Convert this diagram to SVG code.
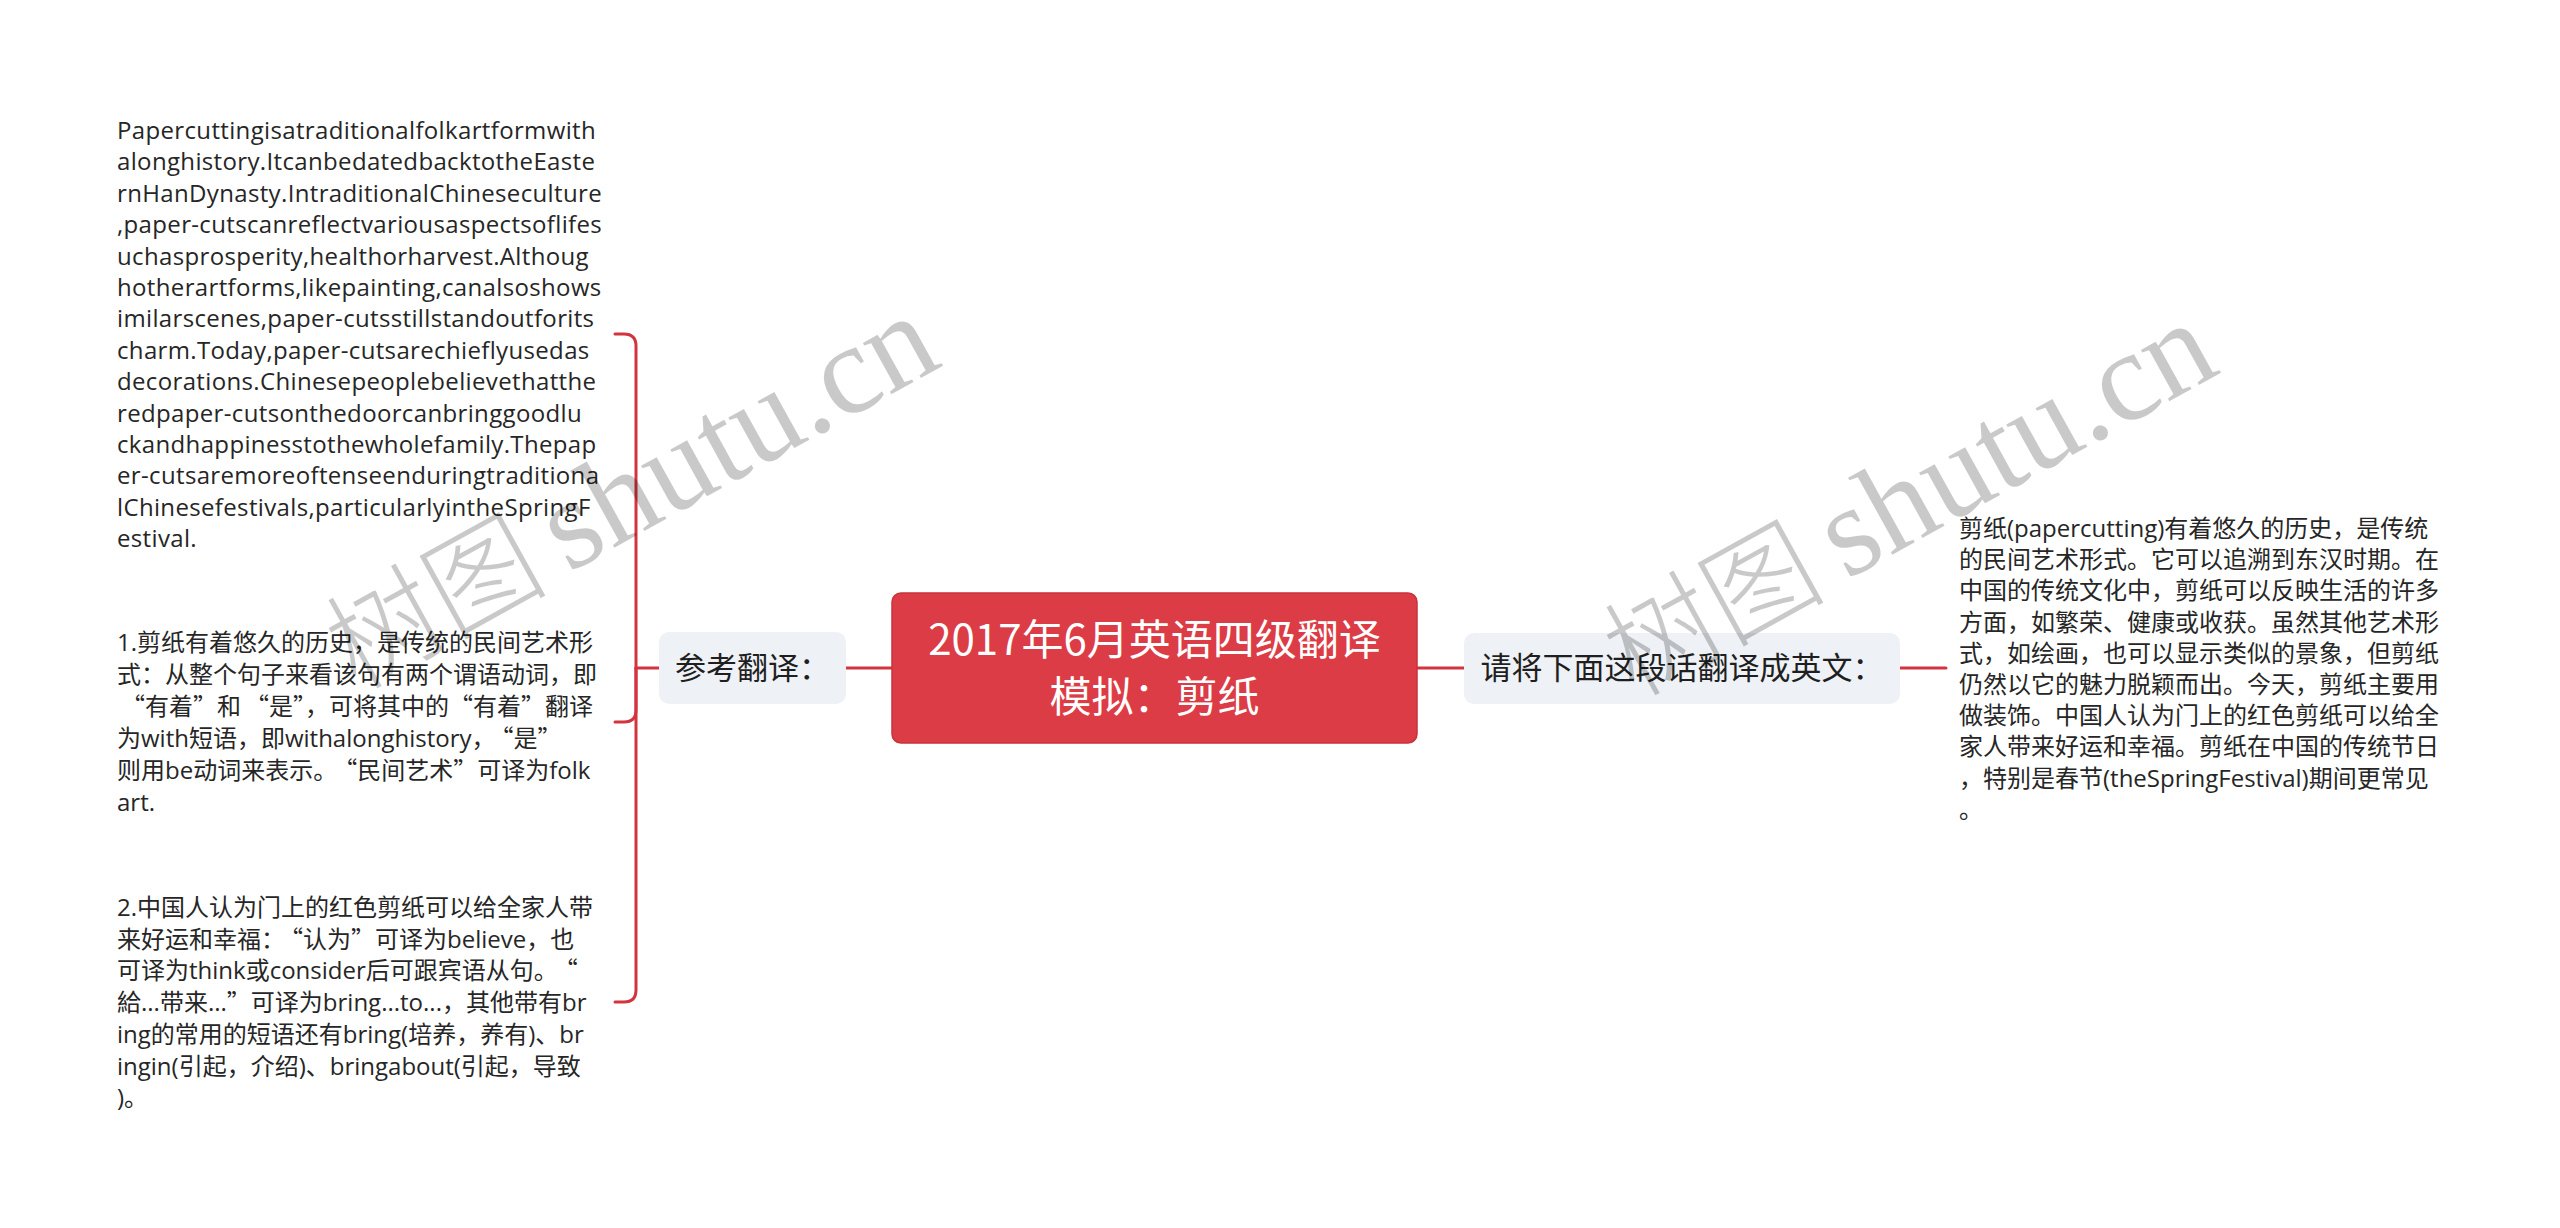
<svg xmlns="http://www.w3.org/2000/svg" width="2560" height="1228" viewBox="0 0 2560 1228">
<style>
.bg{fill:#ffffff}
.wm{fill:#000000;fill-opacity:0.21}
.wmc{font-family:"Noto Sans CJK SC",sans-serif;font-weight:300}
.wml{font-family:"Liberation Serif",serif}
.conn{fill:none;stroke:#d2353f;stroke-width:3;stroke-linecap:round}
.root{fill:#dc3c45;stroke:#c9323b;stroke-width:1.5}
.roott{font-family:"Noto Sans CJK SC",sans-serif;font-size:42px;fill:#ffffff;text-anchor:middle}
.sub{fill:#eef1f5}
.subt{font-family:"Noto Sans CJK SC",sans-serif;font-size:31px;fill:#1f1f1f;text-anchor:middle}
.txt{font-family:"Open Sans","Noto Sans CJK SC",sans-serif;font-size:24px;fill:#262626}
.en{letter-spacing:0.35px}
.cj{font-family:"Noto Sans CJK SC",sans-serif}
</style>
<rect class="bg" x="0" y="0" width="2560" height="1228"/>

<g id="connectors">
  <path class="conn" d="M892 668 H846"/>
  <path class="conn" d="M659 668 H636"/>
  <path class="conn" d="M636 668 V346 Q636 334 624 334 H615"/>
  <path class="conn" d="M636 668 V710 Q636 722 624 722 H615"/>
  <path class="conn" d="M636 668 V990 Q636 1002 624 1002 H615"/>
  <path class="conn" d="M1417 668 H1464"/>
  <path class="conn" d="M1900 668 H1946"/>
</g>

<g id="root">
  <rect class="root" x="892" y="593" width="525" height="150" rx="9"/>
  <text class="roott"><tspan x="1154.5" y="655">2017年6月英语四级翻译</tspan><tspan x="1154.5" y="712">模拟：剪纸</tspan></text>
</g>

<g id="node-ref">
  <rect class="sub" x="659" y="632" width="187" height="72" rx="10"/>
  <text class="subt" x="752.5" y="679">参考翻译：</text>
</g>

<g id="node-task">
  <rect class="sub" x="1464" y="633" width="436" height="71" rx="10"/>
  <text class="subt" x="1682" y="679">请将下面这段话翻译成英文：</text>
</g>

<g id="node-english">
  <text class="txt en">
    <tspan x="117" y="139">Papercuttingisatraditionalfolkartformwith</tspan>
    <tspan x="117" dy="31.4">alonghistory.ItcanbedatedbacktotheEaste</tspan>
    <tspan x="117" dy="31.4">rnHanDynasty.IntraditionalChineseculture</tspan>
    <tspan x="117" dy="31.4">,paper-cutscanreflectvariousaspectsoflifes</tspan>
    <tspan x="117" dy="31.4">uchasprosperity,healthorharvest.Althoug</tspan>
    <tspan x="117" dy="31.4">hotherartforms,likepainting,canalsoshows</tspan>
    <tspan x="117" dy="31.4">imilarscenes,paper-cutsstillstandoutforits</tspan>
    <tspan x="117" dy="31.4">charm.Today,paper-cutsarechieflyusedas</tspan>
    <tspan x="117" dy="31.4">decorations.Chinesepeoplebelievethatthe</tspan>
    <tspan x="117" dy="31.4">redpaper-cutsonthedoorcanbringgoodlu</tspan>
    <tspan x="117" dy="31.4">ckandhappinesstothewholefamily.Thepap</tspan>
    <tspan x="117" dy="31.4">er-cutsaremoreoftenseenduringtraditiona</tspan>
    <tspan x="117" dy="31.4">lChinesefestivals,particularlyintheSpringF</tspan>
    <tspan x="117" dy="31.4">estival.</tspan>
  </text>
</g>

<g id="node-note1">
  <text class="txt">
    <tspan x="117" y="651">1.剪纸有着悠久的历史，是传统的民间艺术形</tspan>
    <tspan x="117" dy="32">式：从整个句子来看该句有两个谓语动词，即</tspan>
    <tspan x="117" dy="32"><tspan class="cj" dx="4">“</tspan>有着<tspan class="cj">”</tspan>和<tspan class="cj" dx="4">“</tspan>是<tspan class="cj">”</tspan>，可将其中的<tspan class="cj">“</tspan>有着<tspan class="cj">”</tspan>翻译</tspan>
    <tspan x="117" dy="32">为with短语，即withalonghistory，<tspan class="cj" dx="6">“</tspan>是<tspan class="cj">”</tspan></tspan>
    <tspan x="117" dy="32">则用be动词来表示。<tspan class="cj" dx="8">“</tspan>民间艺术<tspan class="cj">”</tspan>可译为folk</tspan>
    <tspan x="117" dy="32">art.</tspan>
  </text>
</g>

<g id="node-note2">
  <text class="txt">
    <tspan x="117" y="916">2.中国人认为门上的红色剪纸可以给全家人带</tspan>
    <tspan x="117" dy="31.7">来好运和幸福：<tspan class="cj" dx="6">“</tspan>认为<tspan class="cj">”</tspan>可译为believe，也</tspan>
    <tspan x="117" dy="31.7">可译为think或consider后可跟宾语从句。<tspan class="cj" dx="8">“</tspan></tspan>
    <tspan x="117" dy="31.7">給...带来...<tspan class="cj">”</tspan>可译为bring...to...，其他带有br</tspan>
    <tspan x="117" dy="31.7">ing的常用的短语还有bring(培养，养有)、br</tspan>
    <tspan x="117" dy="31.7">ingin(引起，介绍)、bringabout(引起，导致</tspan>
    <tspan x="117" dy="31.7">)。</tspan>
  </text>
</g>

<g id="node-chinese">
  <text class="txt">
    <tspan x="1959" y="537">剪纸(papercutting)有着悠久的历史，是传统</tspan>
    <tspan x="1959" dy="31.2">的民间艺术形式。它可以追溯到东汉时期。在</tspan>
    <tspan x="1959" dy="31.2">中国的传统文化中，剪纸可以反映生活的许多</tspan>
    <tspan x="1959" dy="31.2">方面，如繁荣、健康或收获。虽然其他艺术形</tspan>
    <tspan x="1959" dy="31.2">式，如绘画，也可以显示类似的景象，但剪纸</tspan>
    <tspan x="1959" dy="31.2">仍然以它的魅力脱颖而出。今天，剪纸主要用</tspan>
    <tspan x="1959" dy="31.2">做装饰。中国人认为门上的红色剪纸可以给全</tspan>
    <tspan x="1959" dy="31.2">家人带来好运和幸福。剪纸在中国的传统节日</tspan>
    <tspan x="1959" dy="31.2">，特别是春节(theSpringFestival)期间更常见</tspan>
    <tspan x="1959" dy="31.2">。</tspan>
  </text>
</g>

<g id="watermarks">
  <text class="wm" transform="translate(356,691) rotate(-29)"><tspan class="wmc" font-size="111">树图</tspan><tspan class="wml" font-size="128" dx="21">shutu.cn</tspan></text>
  <text class="wm" transform="translate(1634,698) rotate(-29)"><tspan class="wmc" font-size="111">树图</tspan><tspan class="wml" font-size="128" dx="21">shutu.cn</tspan></text>
</g>
</svg>
